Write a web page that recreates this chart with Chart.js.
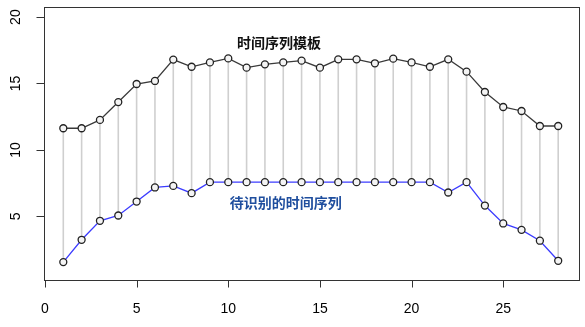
<!DOCTYPE html>
<html>
<head>
<meta charset="utf-8">
<script src="https://cdn.jsdelivr.net/npm/chart.js@4.4.1/dist/chart.umd.min.js"></script>
<style>
  html,body{margin:0;padding:0;background:#fff;}
  #wrap{width:585px;height:327px;position:relative;}
</style>
</head>
<body>
<div id="wrap"><canvas id="c" width="585" height="327"></canvas></div>
<script>
// ---- data ----
const positions = [1,2,3,4,5,6,7,8,9,10,11,12,13,14,15,16,17,18,19,20,21,22,23,24,25,26,27,28];
const templateSeries = [11.63,11.63,12.26,13.6,14.96,15.19,16.8,16.26,16.59,16.89,16.19,16.44,16.59,16.72,16.19,16.82,16.82,16.52,16.87,16.59,16.26,16.82,15.89,14.36,13.23,12.93,11.8,11.8];
const querySeries = [1.55,3.23,4.66,5.06,6.11,7.17,7.29,6.74,7.57,7.57,7.57,7.57,7.57,7.57,7.57,7.57,7.57,7.57,7.57,7.57,7.57,6.79,7.57,5.81,4.46,3.98,3.16,1.65];
const xTicks = [0,5,10,15,20,25];
const yTicks = [5,10,15,20];
const templateLabel = "时间序列模板";
const queryLabel = "待识别的时间序列";

const topPts = positions.map((x,i)=>({x:x,y:templateSeries[i]}));
const botPts = positions.map((x,i)=>({x:x,y:querySeries[i]}));
const links = [];
positions.forEach((x,i)=>{
  links.push({x:x,y:templateSeries[i]});
  links.push({x:x,y:querySeries[i]});
  links.push({x:x,y:null});
});

const rPlot = {
  id:'rPlot',
  beforeDraw(chart){
    const ctx = chart.ctx;
    ctx.save();
    ctx.fillStyle = '#fff';
    ctx.fillRect(0,0,chart.width,chart.height);
    ctx.restore();
  },
  afterDraw(chart){
    const ctx = chart.ctx;
    const xs = chart.scales.x, ys = chart.scales.y;
    const a = chart.chartArea;
    ctx.save();
    // box
    ctx.strokeStyle = '#333';
    ctx.lineWidth = 1;
    ctx.strokeRect(Math.round(a.left)+0.5, Math.round(a.top)+0.5, Math.round(a.right-a.left), Math.round(a.bottom-a.top));
    // x axis ticks + labels
    ctx.fillStyle = '#000';
    ctx.font = '14px "Liberation Sans", Arial, sans-serif';
    ctx.textAlign = 'center';
    ctx.textBaseline = 'middle';
    const by = Math.round(a.bottom)+0.5;
    ctx.beginPath();
    xTicks.forEach(v=>{
      const px = Math.round(xs.getPixelForValue(v))+0.5;
      ctx.moveTo(px, by); ctx.lineTo(px, by+7);
    });
    ctx.moveTo(Math.round(xs.getPixelForValue(xTicks[0]))+0.5, by);
    ctx.lineTo(Math.round(xs.getPixelForValue(xTicks[xTicks.length-1]))+0.5, by);
    ctx.stroke();
    xTicks.forEach(v=>{
      ctx.fillText(String(v), xs.getPixelForValue(v), 309);
    });
    // y axis ticks + rotated labels
    const lx = Math.round(a.left)+0.5;
    ctx.beginPath();
    yTicks.forEach(v=>{
      const py = Math.round(ys.getPixelForValue(v))+0.5;
      ctx.moveTo(lx, py); ctx.lineTo(lx-8, py);
    });
    ctx.stroke();
    yTicks.forEach(v=>{
      const py = ys.getPixelForValue(v);
      ctx.save();
      ctx.translate(16, py);
      ctx.rotate(-Math.PI/2);
      ctx.fillText(String(v), 0, 0);
      ctx.restore();
    });
    // annotations
    ctx.font = 'bold 14px "Noto Sans CJK SC", sans-serif';
    ctx.fillStyle = '#111';
    ctx.fillText(templateLabel, xs.getPixelForValue(12.77), ys.getPixelForValue(18.05));
    ctx.fillStyle = '#1f4e9e';
    ctx.fillText(queryLabel, xs.getPixelForValue(13.13), ys.getPixelForValue(6.0));
    ctx.restore();
  }
};

new Chart(document.getElementById('c'), {
  type:'line',
  data:{
    datasets:[
      {label:'template', data:topPts, borderColor:'#3a3a3a', borderWidth:1.3,
       pointRadius:3.5, pointBorderColor:'#222', pointBackgroundColor:'#f4f4f4', pointBorderWidth:1.3,
       tension:0, order:1},
      {label:'query', data:botPts, borderColor:'#3c3cff', borderWidth:1.3,
       pointRadius:3.5, pointBorderColor:'#222', pointBackgroundColor:'#f4f4f4', pointBorderWidth:1.3,
       tension:0, order:2},
      {label:'links', data:links, borderColor:'#cfcfcf', borderWidth:1.6, pointRadius:0,
       spanGaps:false, tension:0, order:3}
    ]
  },
  options:{
    responsive:false,
    animation:false,
    layout:{padding:{left:43.5, right:7, top:7, bottom:47.5}},
    plugins:{legend:{display:false}, tooltip:{enabled:false}},
    scales:{
      x:{type:'linear', min:-0.08, max:29.08, display:false},
      y:{type:'linear', min:0.24, max:20.76, display:false}
    }
  },
  plugins:[rPlot]
});
</script>
</body>
</html>
